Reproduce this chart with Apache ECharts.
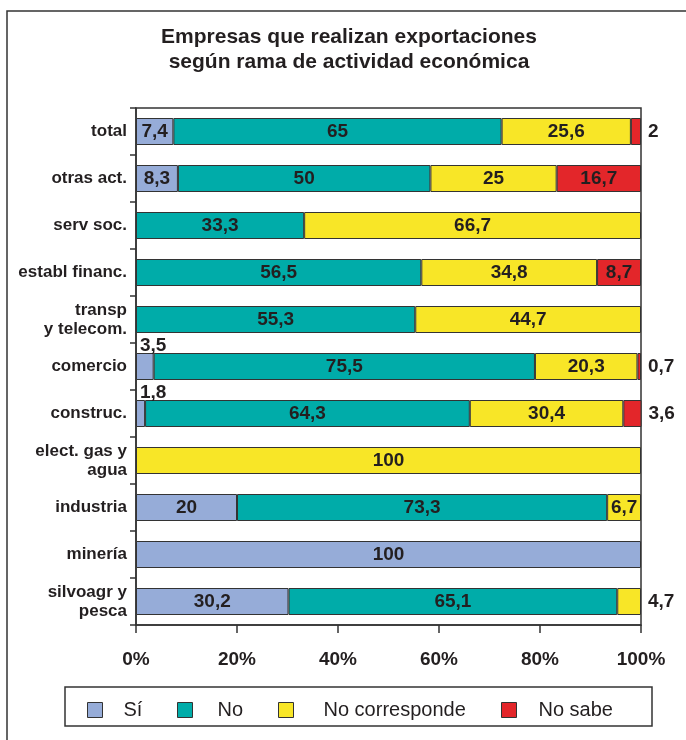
<!DOCTYPE html>
<html>
<head>
<meta charset="utf-8">
<script src="https://cdn.jsdelivr.net/npm/echarts@6/dist/echarts.min.js"></script>
<style>
  html, body { margin: 0; padding: 0; background: #fff; }
  #chart { width: 686px; height: 740px; }
</style>
</head>
<body>
<div id="chart"></div>
<script>
// ramas de actividad, de arriba hacia abajo
var categorias = ['total', 'otras act.', 'serv soc.', 'establ financ.', 'transp\ny telecom.',
  'comercio', 'construc.', 'elect. gas y\nagua', 'industria', 'minería', 'silvoagr y\npesca']
// porcentajes por respuesta (null = sin barra)
var si = [7.4, 8.3, null, null, null, 3.5, 1.8, null, 20, 100, 30.2]
var no = [65, 50, 33.3, 56.5, 55.3, 75.5, 64.3, null, 73.3, null, 65.1]
var noCorresponde = [25.6, 25, 66.7, 34.8, 44.7, 20.3, 30.4, 100, 6.7, null, 4.7]
var noSabe = [2, 16.7, null, 8.7, null, 0.7, 3.6, null, null, null, null]
var ticksX = [0, 20, 40, 60, 80, 100]
var respuestas = ['Sí', 'No', 'No corresponde', 'No sabe']

var colores = ['#96acd8', '#00aca9', '#f8e627', '#e3262a']
var fuente = "'Liberation Sans', Arial, sans-serif"
var oscuro = '#231f20'

function coma (v) {
  return String(v).replace('.', ',')
}

function serie (nombre, valores, color) {
  return {
    name: nombre,
    type: 'bar',
    stack: 'total',
    barWidth: 27,
    itemStyle: { color: color, borderColor: '#333', borderWidth: 1 },
    label: {
      show: true,
      position: 'inside',
      fontFamily: fuente,
      fontWeight: 'bold',
      fontSize: 19,
      color: oscuro,
      formatter: function (p) { return coma(p.value) }
    },
    data: valores.map(function (v) {
      if (v === null) return '-'
      // los valores chicos van fuera de la barra
      if (v < 5) {
        if (nombre === 'Sí') {
          return { value: v, label: { position: [4, -17] } }
        }
        return { value: v, label: { position: 'right', distance: 7 } }
      }
      return v
    })
  }
}

// leyenda: una por item, para ubicarlas como en el original
var legendLeft = [87, 177, 278, 501]
var legendPad = [16, 20, 25, 17]
var leyendas = respuestas.map(function (r, i) {
  return {
    left: legendLeft[i],
    top: 700,
    padding: 0,
    icon: 'rect',
    itemWidth: 15,
    itemHeight: 15,
    itemStyle: { borderColor: '#333', borderWidth: 1 },
    textStyle: { fontFamily: fuente, fontSize: 20, color: oscuro, padding: [0, 0, 0, legendPad[i]] },
    data: [r]
  }
})

var myChart = echarts.init(document.getElementById('chart'))
var option = {
  animation: false,
  backgroundColor: '#fff',
  textStyle: { fontFamily: fuente },
  title: {
    text: 'Empresas que realizan exportaciones\nsegún rama de actividad económica',
    left: 349,
    top: 25,
    padding: 0,
    textAlign: 'center',
    textStyle: { fontFamily: fuente, fontWeight: 'bold', fontSize: 21, lineHeight: 25, color: oscuro }
  },
  graphic: [
    {
      type: 'rect',
      z: -1,
      shape: { x: 7, y: 11, width: 700, height: 760 },
      style: { fill: 'none', stroke: '#333', lineWidth: 1.5 }
    },
    {
      type: 'rect',
      z: -1,
      shape: { x: 65, y: 687, width: 587, height: 39 },
      style: { fill: 'none', stroke: '#333', lineWidth: 1.5 }
    }
  ],
  legend: leyendas,
  grid: {
    left: 136,
    right: 45,
    top: 108,
    bottom: 115,
    show: true,
    borderColor: '#333',
    borderWidth: 1.5
  },
  xAxis: {
    type: 'value',
    min: ticksX[0],
    max: ticksX[ticksX.length - 1],
    interval: 20,
    axisLine: { show: true, lineStyle: { color: '#333', width: 1.5 } },
    axisTick: { show: true, inside: false, length: 8, lineStyle: { color: '#333', width: 1.5 } },
    splitLine: { show: false },
    axisLabel: {
      margin: 25,
      fontFamily: fuente,
      fontWeight: 'bold',
      fontSize: 19,
      color: oscuro,
      formatter: '{value}%'
    }
  },
  yAxis: {
    type: 'category',
    inverse: true,
    data: categorias,
    axisLine: { show: true, lineStyle: { color: '#333', width: 1.5 } },
    axisTick: { show: true, length: 6, lineStyle: { color: '#333', width: 1.5 } },
    axisLabel: {
      margin: 9,
      fontFamily: fuente,
      fontWeight: 'bold',
      fontSize: 17,
      lineHeight: 19,
      color: oscuro
    }
  },
  series: [
    serie(respuestas[0], si, colores[0]),
    serie(respuestas[1], no, colores[1]),
    serie(respuestas[2], noCorresponde, colores[2]),
    serie(respuestas[3], noSabe, colores[3])
  ]
}
myChart.setOption(option)
</script>
</body>
</html>
